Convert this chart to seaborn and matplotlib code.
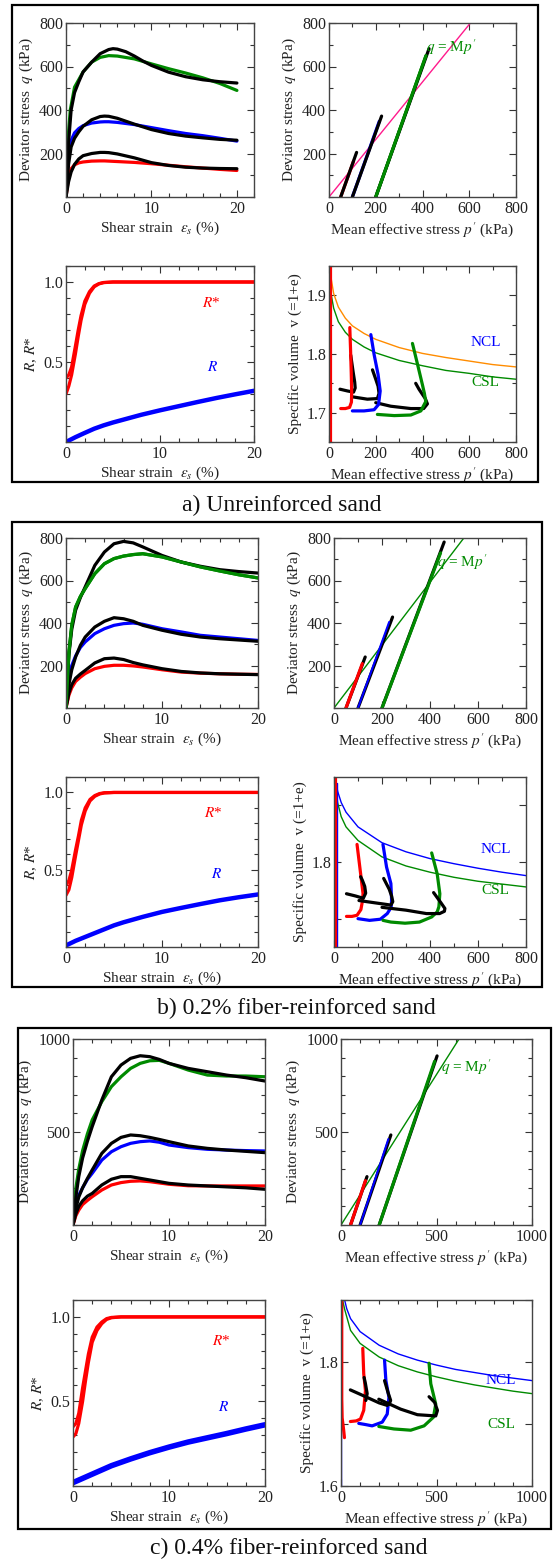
import matplotlib
matplotlib.use("Agg")
import matplotlib.pyplot as plt
import seaborn as sns
from matplotlib.ticker import MultipleLocator
from matplotlib.patches import Rectangle

# ---------------- DATA ----------------
# panel a : stress-strain
a_eps_up = [0, 0.2, 0.5, 1, 2, 3, 4, 5, 6, 8, 10, 12, 14, 16, 18, 20]
a_q_green = [0, 250, 400, 505, 575, 620, 642, 650, 648, 635, 612, 590, 570, 548, 522, 490]
a_eps_bk1 = [0, 0.3, 0.6, 1, 1.5, 2, 3, 4, 5, 5.5, 6, 7, 8, 9, 10, 12, 14, 16, 18, 20]
a_q_bk1 = [0, 250, 400, 480, 530, 575, 620, 659, 678, 682, 680, 668, 648, 625, 605, 574, 553, 539, 530, 524]
a_eps_mid = [0, 0.3, 0.6, 1, 1.5, 2, 3, 4, 4.5, 5, 6, 8, 10, 12, 14, 16, 18, 20]
a_q_bk2 = [0, 150, 230, 270, 300, 325, 355, 370, 372, 371, 362, 335, 310, 292, 280, 272, 265, 261]
a_q_blue = [0, 200, 260, 295, 315, 328, 340, 345, 346, 346, 343, 333, 319, 305, 292, 282, 270, 257]
a_q_bk3 = [0, 70, 115, 150, 175, 190, 200, 205, 205, 204, 198, 180, 158, 145, 137, 133, 131, 130]
a_q_red = [0, 90, 130, 148, 157, 161, 165, 166, 166, 165, 163, 159, 153, 146, 139, 133, 127, 122]
# panel a : stress paths
a_sp_red_p = [50, 105]; a_sp_red_q = [0, 165]
a_sp_bk1_p = [50, 118]; a_sp_bk1_q = [0, 205]
a_sp_blue_p = [100, 215]; a_sp_blue_q = [0, 348]
a_sp_bk2_p = [100, 225]; a_sp_bk2_q = [0, 372]
a_sp_green_p = [200, 415]; a_sp_green_q = [0, 650]
a_sp_bk3_p = [200, 428]; a_sp_bk3_q = [0, 682]
a_mline_p = [0, 605]; a_mline_q = [0, 800]
# panel a : R, R*
a_eps_R = [0, 1, 2, 3, 4, 5, 6, 8, 10, 12, 14, 16, 18, 20]
a_R = [0.0, 0.03, 0.057, 0.083, 0.104, 0.122, 0.138, 0.17, 0.198, 0.224, 0.25, 0.275, 0.298, 0.32]
a_eps_Rs = [0, 0.3, 0.6, 1, 1.3, 1.6, 2, 2.5, 3, 3.5, 4, 5, 6, 10, 20]
a_Rs1 = [0.40, 0.42, 0.47, 0.60, 0.70, 0.79, 0.88, 0.94, 0.975, 0.99, 0.997, 1.0, 1.0, 1.0, 1.0]
a_Rs2 = [0.30, 0.35, 0.42, 0.55, 0.66, 0.76, 0.86, 0.93, 0.97, 0.988, 0.996, 1.0, 1.0, 1.0, 1.0]
# panel a : v - p'
a_ncl_p = [4, 10, 20, 40, 70, 100, 150, 200, 300, 400, 500, 600, 700, 800]
a_ncl_v = [1.953, 1.927, 1.903, 1.880, 1.861, 1.848, 1.835, 1.825, 1.811, 1.801, 1.794, 1.788, 1.782, 1.778]
a_csl_p = [3, 10, 20, 40, 70, 100, 150, 200, 300, 400, 500, 600, 700, 800]
a_csl_v = [1.94, 1.90, 1.878, 1.855, 1.837, 1.825, 1.812, 1.802, 1.789, 1.780, 1.772, 1.767, 1.761, 1.757]
a_vert_red_p = [4, 4]; a_vert_red_v = [1.65, 1.95]
a_vp_red_p = [50, 70, 88, 96, 97, 95, 92, 89]
a_vp_red_v = [1.707, 1.707, 1.709, 1.718, 1.736, 1.77, 1.81, 1.845]
a_vp_bk1_p = [47, 79, 105, 112, 110, 103, 93]
a_vp_bk1_v = [1.740, 1.737, 1.735, 1.742, 1.752, 1.770, 1.798]
a_vp_blue_p = [100, 150, 193, 212, 219, 210, 193, 179]
a_vp_blue_v = [1.703, 1.703, 1.705, 1.714, 1.737, 1.765, 1.799, 1.833]
a_vp_bk2_p = [100, 164, 207, 214, 210, 200, 186]
a_vp_bk2_v = [1.727, 1.723, 1.724, 1.733, 1.745, 1.757, 1.773]
a_vp_green_p = [207, 279, 350, 393, 414, 408, 400, 379, 357]
a_vp_green_v = [1.697, 1.695, 1.696, 1.703, 1.719, 1.733, 1.747, 1.782, 1.818]
a_vp_bk3_p = [200, 264, 350, 405, 421, 412, 400, 385, 371]
a_vp_bk3_v = [1.717, 1.711, 1.707, 1.707, 1.715, 1.724, 1.731, 1.740, 1.750]

# panel b : stress-strain
b_eps = [0, 0.3, 0.6, 1, 1.5, 2, 3, 4, 5, 6, 7, 8, 10, 12, 14, 16, 18, 20]
b_q_bk1 = [0, 250, 370, 460, 520, 570, 671, 734, 773, 784, 777, 758, 718, 687, 667, 651, 642, 635]
b_q_green = [0, 260, 390, 475, 525, 562, 632, 679, 703, 715, 722, 726, 711, 687, 664, 645, 627, 612]
b_q_bk2 = [0, 110, 180, 240, 295, 334, 381, 408, 425, 420, 408, 389, 366, 347, 334, 326, 320, 314]
b_q_blue = [0, 140, 200, 245, 285, 311, 350, 373, 389, 397, 400, 394, 373, 358, 342, 334, 326, 318]
b_q_bk3 = [0, 70, 110, 140, 160, 177, 212, 232, 235, 228, 214, 203, 185, 172, 165, 161, 159, 157]
b_q_red = [0, 60, 95, 125, 145, 162, 185, 196, 201, 201, 198, 193, 180, 169, 164, 161, 159, 158]
# panel b : stress paths
b_sp_red_p = [50, 118]; b_sp_red_q = [0, 209]
b_sp_bk1_p = [50, 130]; b_sp_bk1_q = [0, 240]
b_sp_blue_p = [100, 230]; b_sp_blue_q = [0, 405]
b_sp_bk2_p = [100, 244]; b_sp_bk2_q = [0, 428]
b_sp_green_p = [200, 444]; b_sp_green_q = [0, 730]
b_sp_bk3_p = [200, 459]; b_sp_bk3_q = [0, 781]
b_mline_p = [0, 541]; b_mline_q = [0, 800]
# panel b : R, R*
b_eps_R = [0, 1, 2, 3, 4, 5, 6, 8, 10, 12, 14, 16, 18, 20]
b_R = [0.01, 0.04, 0.065, 0.09, 0.115, 0.14, 0.16, 0.195, 0.227, 0.253, 0.278, 0.302, 0.322, 0.34]
b_eps_Rs = [0, 0.3, 0.6, 1, 1.3, 1.6, 2, 2.5, 3, 3.5, 4, 5, 6, 10, 20]
b_Rs1 = [0.40, 0.43, 0.50, 0.63, 0.72, 0.82, 0.90, 0.955, 0.98, 0.993, 0.998, 1.0, 1.0, 1.0, 1.0]
b_Rs2 = [0.335, 0.37, 0.45, 0.59, 0.69, 0.79, 0.88, 0.945, 0.975, 0.99, 0.997, 1.0, 1.0, 1.0, 1.0]
# panel b : v - p'
b_ncl_p = [6, 15, 30, 50, 100, 200, 300, 400, 500, 600, 700, 800]
b_ncl_v = [1.950, 1.925, 1.905, 1.888, 1.862, 1.834, 1.818, 1.806, 1.797, 1.789, 1.782, 1.776]
b_csl_p = [4, 15, 30, 50, 100, 200, 300, 400, 500, 600, 700, 800]
b_csl_v = [1.945, 1.905, 1.880, 1.862, 1.838, 1.809, 1.793, 1.782, 1.773, 1.766, 1.761, 1.756]
b_vert_red_p = [4, 4]; b_vert_red_v = [1.65, 1.95]
b_vert_blue_p = [12, 12]; b_vert_blue_v = [1.65, 1.94]
b_vp_red_p = [52, 75, 96, 112, 118, 121, 111, 96]
b_vp_red_v = [1.704, 1.704, 1.706, 1.716, 1.73, 1.744, 1.779, 1.831]
b_vp_bk1_p = [52, 90, 122, 132, 128, 118, 111]
b_vp_bk1_v = [1.744, 1.740, 1.736, 1.745, 1.757, 1.768, 1.774]
b_vp_blue_p = [100, 148, 193, 222, 238, 240, 237, 219, 204]
b_vp_blue_v = [1.700, 1.697, 1.699, 1.709, 1.720, 1.733, 1.762, 1.791, 1.831]
b_vp_bk2_p = [104, 170, 237, 245, 240, 230, 207]
b_vp_bk2_v = [1.732, 1.728, 1.724, 1.730, 1.740, 1.752, 1.771]
b_vp_green_p = [204, 237, 296, 356, 407, 430, 437, 441, 430, 407]
b_vp_green_v = [1.697, 1.694, 1.692, 1.694, 1.703, 1.712, 1.721, 1.744, 1.779, 1.816]
b_vp_bk3_p = [200, 300, 385, 440, 460, 462, 444, 415]
b_vp_bk3_v = [1.720, 1.715, 1.709, 1.709, 1.713, 1.718, 1.729, 1.746]

# panel c : stress-strain
c_eps = [0, 0.3, 0.6, 1, 1.5, 2, 3, 4, 5, 6, 7, 8, 9, 10, 12, 14, 16, 18, 20]
c_q_bk1 = [0, 150, 260, 360, 450, 529, 672, 797, 860, 896, 910, 905, 890, 869, 842, 824, 806, 792, 774]
c_q_green = [0, 200, 300, 400, 490, 565, 663, 744, 797, 842, 869, 883, 885, 869, 833, 806, 801, 801, 797]
c_q_bk2 = [0, 90, 150, 200, 250, 296, 385, 439, 471, 484, 480, 471, 460, 448, 425, 412, 403, 396, 389]
c_q_blue = [0, 110, 160, 200, 245, 278, 349, 394, 421, 439, 448, 452, 445, 430, 416, 407, 403, 400, 398]
c_q_bk3 = [0, 60, 100, 130, 155, 170, 215, 246, 260, 260, 251, 242, 233, 224, 215, 210, 205, 200, 192]
c_q_red = [0, 50, 80, 110, 132, 152, 188, 215, 228, 235, 237, 233, 226, 219, 211, 210, 210, 210, 210]
# panel c : stress paths
c_sp_red_p = [50, 128]; c_sp_red_q = [0, 238]
c_sp_bk1_p = [50, 136]; c_sp_bk1_q = [0, 260]
c_sp_blue_p = [100, 248]; c_sp_blue_q = [0, 462]
c_sp_bk2_p = [100, 261]; c_sp_bk2_q = [0, 484]
c_sp_green_p = [200, 490]; c_sp_green_q = [0, 880]
c_sp_bk3_p = [200, 503]; c_sp_bk3_q = [0, 909]
c_mline_p = [0, 618]; c_mline_q = [0, 1000]
# panel c : R, R*
c_eps_R = [0, 1, 2, 3, 4, 5, 6, 8, 10, 12, 14, 16, 18, 20]
c_R = [0.02, 0.045, 0.07, 0.095, 0.12, 0.14, 0.16, 0.197, 0.23, 0.26, 0.285, 0.31, 0.337, 0.362]
c_eps_Rs = [0, 0.3, 0.6, 1, 1.3, 1.6, 2, 2.5, 3, 3.5, 4, 5, 6, 10, 20]
c_Rs1 = [0.35, 0.37, 0.43, 0.58, 0.68, 0.78, 0.88, 0.94, 0.97, 0.99, 0.997, 1.0, 1.0, 1.0, 1.0]
c_Rs2 = [0.29, 0.31, 0.37, 0.50, 0.62, 0.73, 0.85, 0.92, 0.96, 0.985, 0.995, 1.0, 1.0, 1.0, 1.0]
# panel c : v - p'
c_ncl_p = [19, 30, 50, 100, 200, 300, 400, 500, 600, 700, 800, 900, 1000]
c_ncl_v = [1.900, 1.886, 1.870, 1.849, 1.827, 1.813, 1.803, 1.795, 1.788, 1.783, 1.778, 1.774, 1.770]
c_csl_p = [8, 20, 50, 100, 200, 300, 400, 500, 600, 700, 800, 900, 1000]
c_csl_v = [1.900, 1.884, 1.851, 1.830, 1.808, 1.794, 1.784, 1.776, 1.769, 1.763, 1.758, 1.753, 1.749]
c_vert_red_p = [4, 4, 6, 14, 18]; c_vert_red_v = [1.90, 1.74, 1.71, 1.69, 1.678]
c_vert_blue_p = [2, 2]; c_vert_blue_v = [1.60, 1.822]
c_vp_red_p = [49, 80, 102, 119, 128, 119, 114]
c_vp_red_v = [1.704, 1.705, 1.708, 1.722, 1.754, 1.781, 1.822]
c_vp_bk1_p = [49, 100, 150, 200, 242]
c_vp_bk1_v = [1.755, 1.748, 1.741, 1.734, 1.730]
c_vp_hk1_p = [121, 128, 137, 130]
c_vp_hk1_v = [1.775, 1.765, 1.749, 1.738]
c_vp_blue_p = [93, 130, 163, 216, 242, 251, 235, 228]
c_vp_blue_v = [1.701, 1.699, 1.697, 1.703, 1.716, 1.743, 1.770, 1.803]
c_vp_hk2_p = [228, 245, 260, 252]
c_vp_hk2_v = [1.770, 1.752, 1.738, 1.732]
c_vp_green_p = [198, 277, 365, 435, 484, 496, 470, 461]
c_vp_green_v = [1.696, 1.692, 1.690, 1.697, 1.711, 1.732, 1.765, 1.798]
c_vp_bk3_p = [198, 312, 400, 496, 505, 490, 461]
c_vp_bk3_v = [1.740, 1.724, 1.715, 1.713, 1.722, 1.735, 1.744]

captions = ["a) Unreinforced sand", "b) 0.2% fiber-reinforced sand", "c) 0.4% fiber-reinforced sand"]

# ---------------- STYLE ----------------
sns.set_theme(style="ticks")
plt.rcParams["font.family"] = ["Liberation Serif", "DejaVu Serif"]
plt.rcParams["mathtext.fontset"] = "stix"

RED, BLUE, GREEN, BLACK = "#ff0000", "#0000ff", "#008a00", "#000000"
ORANGE, PINK = "#ff8c00", "#ff1a8c"
TH, TN = 2.3, 1.0

W, H = 556, 1562
fig = plt.figure(figsize=(W / 100, H / 100), dpi=100)


def mk_ax(l, t, r, b):
    return fig.add_axes([l / W, 1 - b / H, (r - l) / W, (b - t) / H])


def line(ax, x, y, color, lw=TH):
    sns.lineplot(x=x, y=y, ax=ax, color=color, linewidth=lw, sort=False,
                 estimator=None, legend=False)


def style(ax, xlim, ylim, xmaj, xmin, ymaj, ymin, xlabel, ylabel, ylabs=None):
    ax.set_xlim(xlim)
    ax.set_ylim(ylim)
    ax.set_xticks(xmaj, [("%g" % v) for v in xmaj])
    ax.xaxis.set_minor_locator(MultipleLocator(xmin))
    if ylabs is None:
        ylabs = [("%g" % v) for v in ymaj]
    ax.set_yticks(ymaj, ylabs)
    ax.yaxis.set_minor_locator(MultipleLocator(ymin))
    ax.tick_params(which="both", direction="in", top=True, right=True,
                   color="#333333", labelcolor="#222222", labelsize=11.5, width=0.8)
    ax.tick_params(which="major", length=5)
    ax.tick_params(which="minor", length=3)
    ax.tick_params(axis="y", pad=2)
    ax.tick_params(axis="x", pad=3)
    for s in ax.spines.values():
        s.set_color("#444444")
        s.set_linewidth(1.0)
    ax.set_xlabel(xlabel, fontsize=11, labelpad=2, color="#222222")
    ax.set_ylabel(ylabel, fontsize=11, labelpad=3, color="#222222")
    ax.set_facecolor("white")


XL1 = r"Shear strain  $\varepsilon_s$ (%)"
XL2 = r"Mean effective stress $p'$ (kPa)"
YL1 = r"Deviator stress  $q$ (kPa)"
YL3 = r"$R$, $R$*"
YL4 = r"Specific volume  v (=1+e)"

layouts = [
    dict(tl=(66, 23, 254, 197), tr=(329, 23, 516, 197), bl=(66, 266, 254, 442), br=(329, 266, 516, 442),
         box=(12, 5, 538, 482), cap=(282, 505)),
    dict(tl=(66, 538, 258, 708), tr=(334, 538, 526, 708), bl=(66, 777, 258, 947), br=(334, 777, 526, 947),
         box=(12, 522, 542, 987), cap=(296, 1008)),
    dict(tl=(73, 1039, 265, 1225), tr=(341, 1039, 532, 1225), bl=(73, 1300, 265, 1486), br=(341, 1300, 532, 1486),
         box=(18, 1028, 551, 1529), cap=(289, 1548)),
]

# ---------------- PANEL A ----------------
L = layouts[0]
ax = mk_ax(*L["tl"])
line(ax, a_eps_up, a_q_green, GREEN)
line(ax, a_eps_mid, a_q_blue, BLUE)
line(ax, a_eps_mid, a_q_red, RED)
line(ax, a_eps_bk1, a_q_bk1, BLACK)
line(ax, a_eps_mid, a_q_bk2, BLACK)
line(ax, a_eps_mid, a_q_bk3, BLACK)
style(ax, (0, 22), (0, 800), [0, 10, 20], 2, [200, 400, 600, 800], 100, XL1, YL1)

ax = mk_ax(*L["tr"])
line(ax, a_mline_p, a_mline_q, PINK, TN)
line(ax, a_sp_red_p, a_sp_red_q, RED)
line(ax, a_sp_blue_p, a_sp_blue_q, BLUE)
line(ax, a_sp_green_p, a_sp_green_q, GREEN)
line(ax, a_sp_bk1_p, a_sp_bk1_q, BLACK)
line(ax, a_sp_bk2_p, a_sp_bk2_q, BLACK)
line(ax, a_sp_bk3_p, a_sp_bk3_q, BLACK)
line(ax, a_sp_green_p, a_sp_green_q, GREEN)
ax.text(414, 690, r"$q$ = M$p'$", color=GREEN, fontsize=11, va="center", ha="left")
style(ax, (0, 800), (0, 800), [0, 200, 400, 600, 800], 100, [200, 400, 600, 800], 100, XL2, YL1)

ax = mk_ax(*L["bl"])
line(ax, a_eps_Rs, a_Rs1, RED)
line(ax, a_eps_Rs, a_Rs2, RED)
line(ax, a_eps_R, a_R, BLUE, 3.2)
ax.text(15.5, 0.87, r"$R$*", color=RED, fontsize=11, ha="center", va="center")
ax.text(15.6, 0.47, r"$R$", color=BLUE, fontsize=11, ha="center", va="center")
style(ax, (0, 20), (0, 1.1), [0, 10, 20], 2, [0.5, 1.0], 0.1, XL1, YL3, ["0.5", "1.0"])

ax = mk_ax(*L["br"])
line(ax, a_ncl_p, a_ncl_v, ORANGE, TN)
line(ax, a_csl_p, a_csl_v, GREEN, TN)
line(ax, a_vert_red_p, a_vert_red_v, RED)
line(ax, a_vp_bk1_p, a_vp_bk1_v, BLACK)
line(ax, a_vp_bk2_p, a_vp_bk2_v, BLACK)
line(ax, a_vp_bk3_p, a_vp_bk3_v, BLACK)
line(ax, a_vp_red_p, a_vp_red_v, RED)
line(ax, a_vp_blue_p, a_vp_blue_v, BLUE)
line(ax, a_vp_green_p, a_vp_green_v, GREEN)
ax.text(671, 1.82, "NCL", color=BLUE, fontsize=11, ha="center", va="center")
ax.text(671, 1.751, "CSL", color=GREEN, fontsize=11, ha="center", va="center")
style(ax, (0, 800), (1.65, 1.95), [0, 200, 400, 600, 800], 100, [1.7, 1.8, 1.9], 0.05, XL2, YL4,
      ["1.7", "1.8", "1.9"])

# ---------------- PANEL B ----------------
L = layouts[1]
ax = mk_ax(*L["tl"])
line(ax, b_eps, b_q_green, GREEN)
line(ax, b_eps, b_q_blue, BLUE)
line(ax, b_eps, b_q_red, RED)
line(ax, b_eps, b_q_bk1, BLACK)
line(ax, b_eps, b_q_bk2, BLACK)
line(ax, b_eps, b_q_bk3, BLACK)
line(ax, b_eps, b_q_green, GREEN)
style(ax, (0, 20), (0, 800), [0, 10, 20], 2, [200, 400, 600, 800], 100, XL1, YL1)

ax = mk_ax(*L["tr"])
line(ax, b_mline_p, b_mline_q, GREEN, TN)
line(ax, b_sp_bk1_p, b_sp_bk1_q, BLACK)
line(ax, b_sp_bk2_p, b_sp_bk2_q, BLACK)
line(ax, b_sp_bk3_p, b_sp_bk3_q, BLACK)
line(ax, b_sp_red_p, b_sp_red_q, RED)
line(ax, b_sp_blue_p, b_sp_blue_q, BLUE, 1.5)
line(ax, b_sp_green_p, b_sp_green_q, GREEN)
ax.text(429, 687, r"$q$ = M$p'$", color=GREEN, fontsize=11, va="center", ha="left")
style(ax, (0, 800), (0, 800), [0, 200, 400, 600, 800], 100, [200, 400, 600, 800], 100, XL2, YL1)

ax = mk_ax(*L["bl"])
line(ax, b_eps_Rs, b_Rs1, RED)
line(ax, b_eps_Rs, b_Rs2, RED)
line(ax, b_eps_R, b_R, BLUE, 3.2)
ax.text(15.3, 0.865, r"$R$*", color=RED, fontsize=11, ha="center", va="center")
ax.text(15.7, 0.474, r"$R$", color=BLUE, fontsize=11, ha="center", va="center")
style(ax, (0, 20), (0, 1.1), [0, 10, 20], 2, [0.5, 1.0], 0.1, XL1, YL3, ["0.5", "1.0"])

ax = mk_ax(*L["br"])
line(ax, b_ncl_p, b_ncl_v, BLUE, TN)
line(ax, b_csl_p, b_csl_v, GREEN, TN)
line(ax, b_vert_blue_p, b_vert_blue_v, BLUE, TN)
line(ax, b_vert_red_p, b_vert_red_v, RED)
line(ax, b_vp_red_p, b_vp_red_v, RED)
line(ax, b_vp_blue_p, b_vp_blue_v, BLUE)
line(ax, b_vp_green_p, b_vp_green_v, GREEN)
line(ax, b_vp_bk1_p, b_vp_bk1_v, BLACK)
line(ax, b_vp_bk2_p, b_vp_bk2_v, BLACK)
line(ax, b_vp_bk3_p, b_vp_bk3_v, BLACK)
ax.text(674, 1.822, "NCL", color=BLUE, fontsize=11, ha="center", va="center")
ax.text(674, 1.75, "CSL", color=GREEN, fontsize=11, ha="center", va="center")
style(ax, (0, 800), (1.65, 1.95), [0, 200, 400, 600, 800], 100, [1.7, 1.8, 1.9], 0.1, XL2, YL4,
      ["", "1.8", ""])

# ---------------- PANEL C ----------------
L = layouts[2]
ax = mk_ax(*L["tl"])
line(ax, c_eps, c_q_green, GREEN)
line(ax, c_eps, c_q_blue, BLUE)
line(ax, c_eps, c_q_red, RED)
line(ax, c_eps, c_q_bk1, BLACK)
line(ax, c_eps, c_q_bk2, BLACK)
line(ax, c_eps, c_q_bk3, BLACK)
style(ax, (0, 20), (0, 1000), [0, 10, 20], 2, [500, 1000], 100, XL1, YL1)

ax = mk_ax(*L["tr"])
line(ax, c_mline_p, c_mline_q, GREEN, TN)
line(ax, c_sp_bk1_p, c_sp_bk1_q, BLACK)
line(ax, c_sp_bk2_p, c_sp_bk2_q, BLACK)
line(ax, c_sp_bk3_p, c_sp_bk3_q, BLACK)
line(ax, c_sp_red_p, c_sp_red_q, RED)
line(ax, c_sp_blue_p, c_sp_blue_q, BLUE, 1.5)
line(ax, c_sp_green_p, c_sp_green_q, GREEN)
ax.text(521, 849, r"$q$ = M$p'$", color=GREEN, fontsize=11, va="center", ha="left")
style(ax, (0, 1000), (0, 1000), [0, 500, 1000], 100, [500, 1000], 100, XL2, YL1)

ax = mk_ax(*L["bl"])
line(ax, c_eps_Rs, c_Rs1, RED)
line(ax, c_eps_Rs, c_Rs2, RED)
line(ax, c_eps_R, c_R, BLUE, 4.0)
ax.text(15.4, 0.86, r"$R$*", color=RED, fontsize=11, ha="center", va="center")
ax.text(15.7, 0.47, r"$R$", color=BLUE, fontsize=11, ha="center", va="center")
style(ax, (0, 20), (0, 1.1), [0, 10, 20], 2, [0.5, 1.0], 0.1, XL1, YL3, ["0.5", "1.0"])

ax = mk_ax(*L["br"])
line(ax, c_ncl_p, c_ncl_v, BLUE, TN)
line(ax, c_csl_p, c_csl_v, GREEN, TN)
line(ax, c_vert_blue_p, c_vert_blue_v, BLUE, TN)
line(ax, c_vert_red_p, c_vert_red_v, RED)
line(ax, c_vp_red_p, c_vp_red_v, RED)
line(ax, c_vp_blue_p, c_vp_blue_v, BLUE)
line(ax, c_vp_green_p, c_vp_green_v, GREEN)
line(ax, c_vp_bk1_p, c_vp_bk1_v, BLACK)
line(ax, c_vp_hk1_p, c_vp_hk1_v, BLACK)
line(ax, c_vp_hk2_p, c_vp_hk2_v, BLACK)
line(ax, c_vp_bk3_p, c_vp_bk3_v, BLACK)
ax.text(838, 1.77, "NCL", color=BLUE, fontsize=11, ha="center", va="center")
ax.text(838, 1.70, "CSL", color=GREEN, fontsize=11, ha="center", va="center")
style(ax, (0, 1000), (1.6, 1.9), [0, 500, 1000], 100, [1.6, 1.7, 1.8, 1.9], 0.1, XL2, YL4,
      ["1.6", "", "1.8", ""])

# ---------------- BOXES & CAPTIONS ----------------
for L, cap in zip(layouts, captions):
    l, t, r, b = L["box"]
    fig.add_artist(Rectangle((l / W, 1 - b / H), (r - l) / W, (b - t) / H, transform=fig.transFigure,
                             fill=False, edgecolor="black", linewidth=1.6))
    cx, cy = L["cap"]
    fig.text(cx / W, 1 - cy / H, cap, ha="center", va="center", fontsize=17, color="#111111")

fig.savefig("out.png", dpi=100, facecolor="white")
